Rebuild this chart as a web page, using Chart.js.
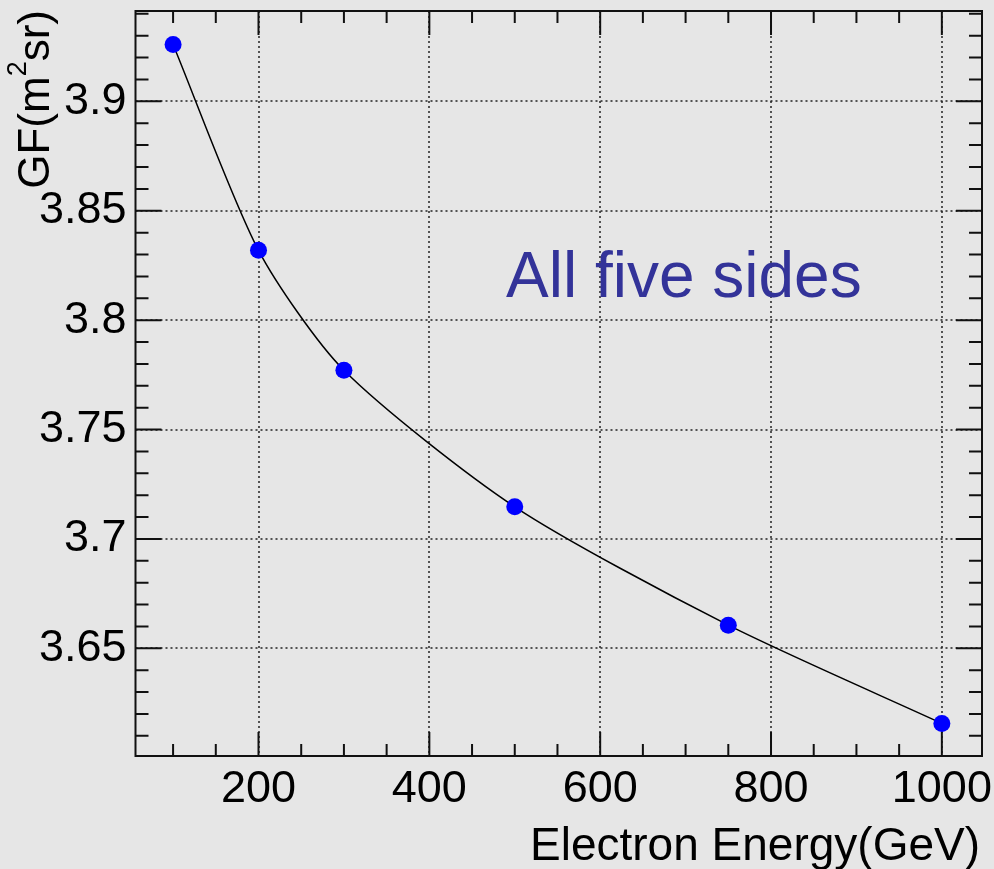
<!DOCTYPE html>
<html>
<head>
<meta charset="utf-8">
<script src="https://cdn.jsdelivr.net/npm/chart.js@4.4.1/dist/chart.umd.min.js"></script>
<style>
  html, body { margin: 0; padding: 0; background: #e6e6e6; }
  canvas { display: block; }
</style>
</head>
<body>
<canvas id="grafico" width="994" height="869"></canvas>
<script>
// energia (GeV) e fator geométrico
const energias = [100, 200, 300, 500, 750, 1000];
const gf = [3.926, 3.8319, 3.7771, 3.7147, 3.6606, 3.6157];

const xTicks = [200, 400, 600, 800, 1000];
const xTickLabels = ['200', '400', '600', '800', '1000'];
const yTicks = [3.65, 3.7, 3.75, 3.8, 3.85, 3.9];
const yTickLabels = ['3.65', '3.7', '3.75', '3.8', '3.85', '3.9'];

const xMin = 56, xMax = 1047;
const yMin = 3.6008, yMax = 3.9413;

const fonte = '"Liberation Sans", Arial, sans-serif';

const rootPlugin = {
    id: 'rootStyle',
    beforeDraw(chart) {
        const ctx = chart.ctx;
        ctx.save();
        ctx.fillStyle = '#e6e6e6';
        ctx.fillRect(0, 0, chart.width, chart.height);
        ctx.restore();
    },
    beforeDatasetsDraw(chart) {
        const { ctx, chartArea: a, scales: { x, y } } = chart;
        ctx.save();
        ctx.strokeStyle = '#222';
        ctx.lineWidth = 1.5;
        ctx.setLineDash([2, 3]);
        xTicks.forEach(v => {
            const px = Math.round(x.getPixelForValue(v));
            ctx.beginPath();
            ctx.moveTo(px, a.top);
            ctx.lineTo(px, a.bottom);
            ctx.stroke();
        });
        yTicks.forEach(v => {
            const py = Math.round(y.getPixelForValue(v));
            ctx.beginPath();
            ctx.moveTo(a.left, py);
            ctx.lineTo(a.right, py);
            ctx.stroke();
        });
        ctx.restore();
    },
    afterDatasetsDraw(chart) {
        const { ctx, chartArea: a, scales: { x, y } } = chart;
        ctx.save();
        ctx.strokeStyle = '#111';
        ctx.lineWidth = 2;
        ctx.strokeRect(a.left, a.top, a.right - a.left, a.bottom - a.top);

        // marcas do eixo x (baixo e cima)
        for (let v = 100; v <= 1000; v += 50) {
            const px = x.getPixelForValue(v);
            const len = v % 200 === 0 ? 24 : 12;
            ctx.beginPath();
            ctx.moveTo(px, a.bottom); ctx.lineTo(px, a.bottom - len);
            ctx.moveTo(px, a.top); ctx.lineTo(px, a.top + len);
            ctx.stroke();
        }
        // marcas do eixo y (esquerda e direita)
        for (let i = 361; i <= 394; i++) {
            const py = y.getPixelForValue(i / 100);
            const len = i % 5 === 0 ? 26 : 13;
            ctx.beginPath();
            ctx.moveTo(a.left, py); ctx.lineTo(a.left + len, py);
            ctx.moveTo(a.right, py); ctx.lineTo(a.right - len, py);
            ctx.stroke();
        }

        // título do eixo x
        ctx.fillStyle = '#000';
        ctx.font = '46px ' + fonte;
        ctx.textAlign = 'right';
        ctx.textBaseline = 'alphabetic';
        ctx.fillText('Electron Energy(GeV)', 980, 860);

        // título do eixo y com sobrescrito
        ctx.translate(49, 10);
        ctx.rotate(-Math.PI / 2);
        ctx.textAlign = 'left';
        const p1 = 'GF(m', p2 = '2', p3 = 'sr)';
        ctx.font = '44px ' + fonte;
        const w1 = ctx.measureText(p1).width, w3 = ctx.measureText(p3).width;
        ctx.font = '27px ' + fonte;
        const w2 = ctx.measureText(p2).width;
        let cx = -(w1 + w2 + w3);
        ctx.font = '44px ' + fonte;
        ctx.fillText(p1, cx, 0); cx += w1;
        ctx.font = '27px ' + fonte;
        ctx.fillText(p2, cx, -23); cx += w2;
        ctx.font = '44px ' + fonte;
        ctx.fillText(p3, cx, 0);
        ctx.restore();

        // legenda
        ctx.save();
        ctx.fillStyle = '#333399';
        ctx.font = '64px ' + fonte;
        ctx.textAlign = 'left';
        ctx.fillText('All five sides', 506, 297);
        ctx.restore();
    }
};

const ctxGF = document.getElementById('grafico').getContext('2d');
const chartGF = new Chart(ctxGF, {
    type: 'line',
    data: {
        datasets: [{
            data: energias.map((e, i) => ({ x: e, y: gf[i] })),
            borderColor: '#000',
            borderWidth: 1.5,
            tension: 0.25,
            pointRadius: 8.5,
            pointBackgroundColor: '#0000ff',
            pointBorderWidth: 0,
            fill: false
        }]
    },
    options: {
        responsive: false,
        animation: false,
        events: [],
        layout: { padding: { top: 11, right: 12, left: 0, bottom: 0 } },
        plugins: {
            legend: { display: false },
            tooltip: { enabled: false }
        },
        scales: {
            x: {
                type: 'linear',
                min: xMin,
                max: xMax,
                afterBuildTicks: s => { s.ticks = xTicks.map(v => ({ value: v })); },
                afterFit: s => { s.height = 113; s.paddingLeft = 0; s.paddingRight = 0; },
                grid: { display: false, drawTicks: false },
                border: { display: false },
                ticks: {
                    autoSkip: false,
                    maxRotation: 0,
                    padding: 7,
                    color: '#000',
                    font: { family: fonte, size: 45 },
                    callback: v => xTickLabels[xTicks.indexOf(v)]
                }
            },
            y: {
                type: 'linear',
                min: yMin,
                max: yMax,
                afterBuildTicks: s => { s.ticks = yTicks.map(v => ({ value: v })); },
                afterFit: s => { s.width = 135.5; s.paddingTop = 0; s.paddingBottom = 0; },
                grid: { display: false, drawTicks: false },
                border: { display: false },
                ticks: {
                    autoSkip: false,
                    padding: 9,
                    color: '#000',
                    font: { family: fonte, size: 45 },
                    callback: v => yTickLabels[yTicks.indexOf(v)]
                }
            }
        }
    },
    plugins: [rootPlugin]
});
</script>
</body>
</html>
